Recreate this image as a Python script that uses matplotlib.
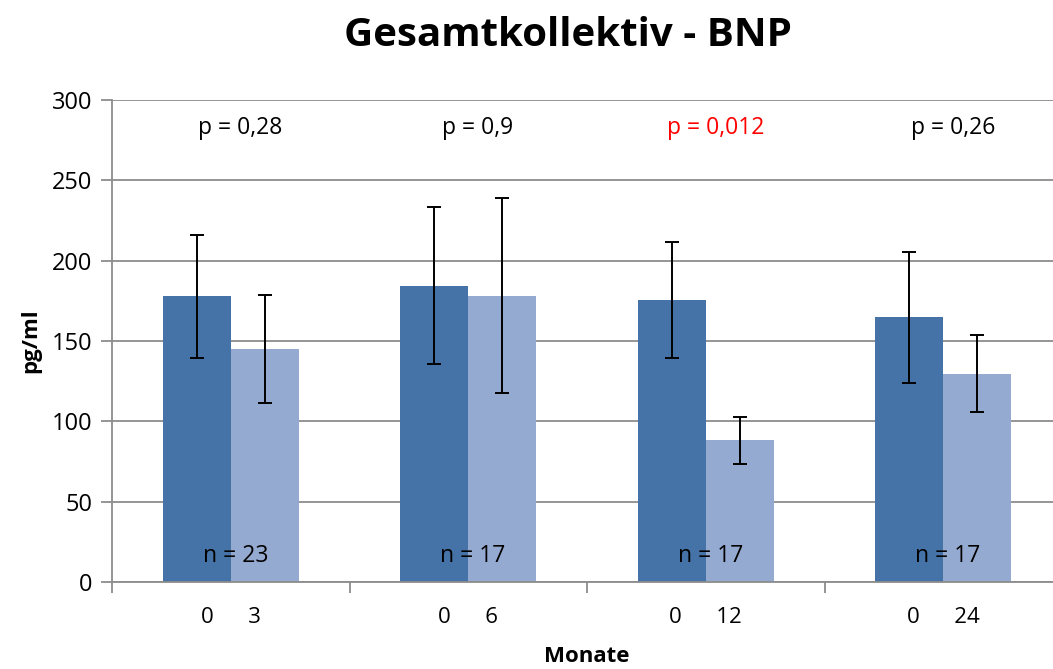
import matplotlib
matplotlib.use("Agg")
import matplotlib.pyplot as plt
import numpy as np

# Data
groups = ["0      3", "0      6", "0      12", "0      24"]
baseline = [177.8, 184.4, 175.5, 164.7]
baseline_err = [38.3, 49.0, 36.0, 41.0]
followup = [145.0, 178.2, 88.2, 129.6]
followup_err = [33.5, 60.6, 14.8, 24.0]
p_labels = ["p = 0,28", "p = 0,9", "p = 0,012", "p = 0,26"]
p_colors = ["black", "black", "red", "black"]
n_labels = ["n = 23", "n = 17", "n = 17", "n = 17"]

plt.rcParams['font.family'] = ['Open Sans', 'DejaVu Sans']

W, H = 1053, 669
fig = plt.figure(figsize=(W / 100, H / 100), dpi=100)
ax = fig.add_axes([112 / W, (H - 582) / H, (1062 - 112) / W, (582 - 100) / H])

x = np.arange(len(groups))
bw = 0.286
dark = "#4673A7"
light = "#95AAD0"
ax.bar(x - bw / 2, baseline, bw, color=dark, zorder=2)
ax.bar(x + bw / 2, followup, bw, color=light, zorder=2)
ekw = dict(fmt="none", ecolor="black", elinewidth=1.4, capsize=5, capthick=1.4, zorder=3)
ax.errorbar(x - bw / 2, baseline, yerr=baseline_err, **ekw)
ax.errorbar(x + bw / 2, followup, yerr=followup_err, **ekw)

ax.set_xlim(-0.5, len(groups) - 0.5)
ax.set_ylim(0, 300)
ax.set_yticks(np.arange(0, 301, 50))
ax.yaxis.grid(True, color="#8c8c8c", linewidth=1.3, zorder=0)
ax.set_axisbelow(True)

ax.set_xticks(x)
ax.set_xticklabels(groups, fontsize=16)
ax.set_xticks(np.arange(len(groups) + 1) - 0.5, minor=True)
ax.tick_params(axis="x", which="major", length=0, pad=18)
ax.tick_params(axis="x", which="minor", length=8, color="#8c8c8c", width=1.3, direction="out")
ax.tick_params(axis="y", length=8, color="#8c8c8c", width=1.3, labelsize=17, pad=6)

for s in ["top", "right"]:
    ax.spines[s].set_visible(False)
for s in ["left", "bottom"]:
    ax.spines[s].set_color("#8c8c8c")
    ax.spines[s].set_linewidth(1.3)

for i in range(len(groups)):
    ax.text(x[i] + 0.04, 282.5, p_labels[i], ha="center", va="center",
            fontsize=16.5, color=p_colors[i])
    ax.text(x[i] + 0.02, 16, n_labels[i], ha="center", va="center",
            fontsize=16.5, color="black", zorder=4)

ax.set_ylabel("pg/ml", fontsize=16, fontweight="bold", labelpad=8)
fig.text(587 / W, 1 - 656 / H, "Monate", ha="center", va="center",
         fontsize=16, fontweight="bold")
fig.text(568 / W, 1 - 36 / H, "Gesamtkollektiv - BNP", ha="center", va="center",
         fontsize=29, fontweight="bold")

fig.savefig("out.png", dpi=100)
